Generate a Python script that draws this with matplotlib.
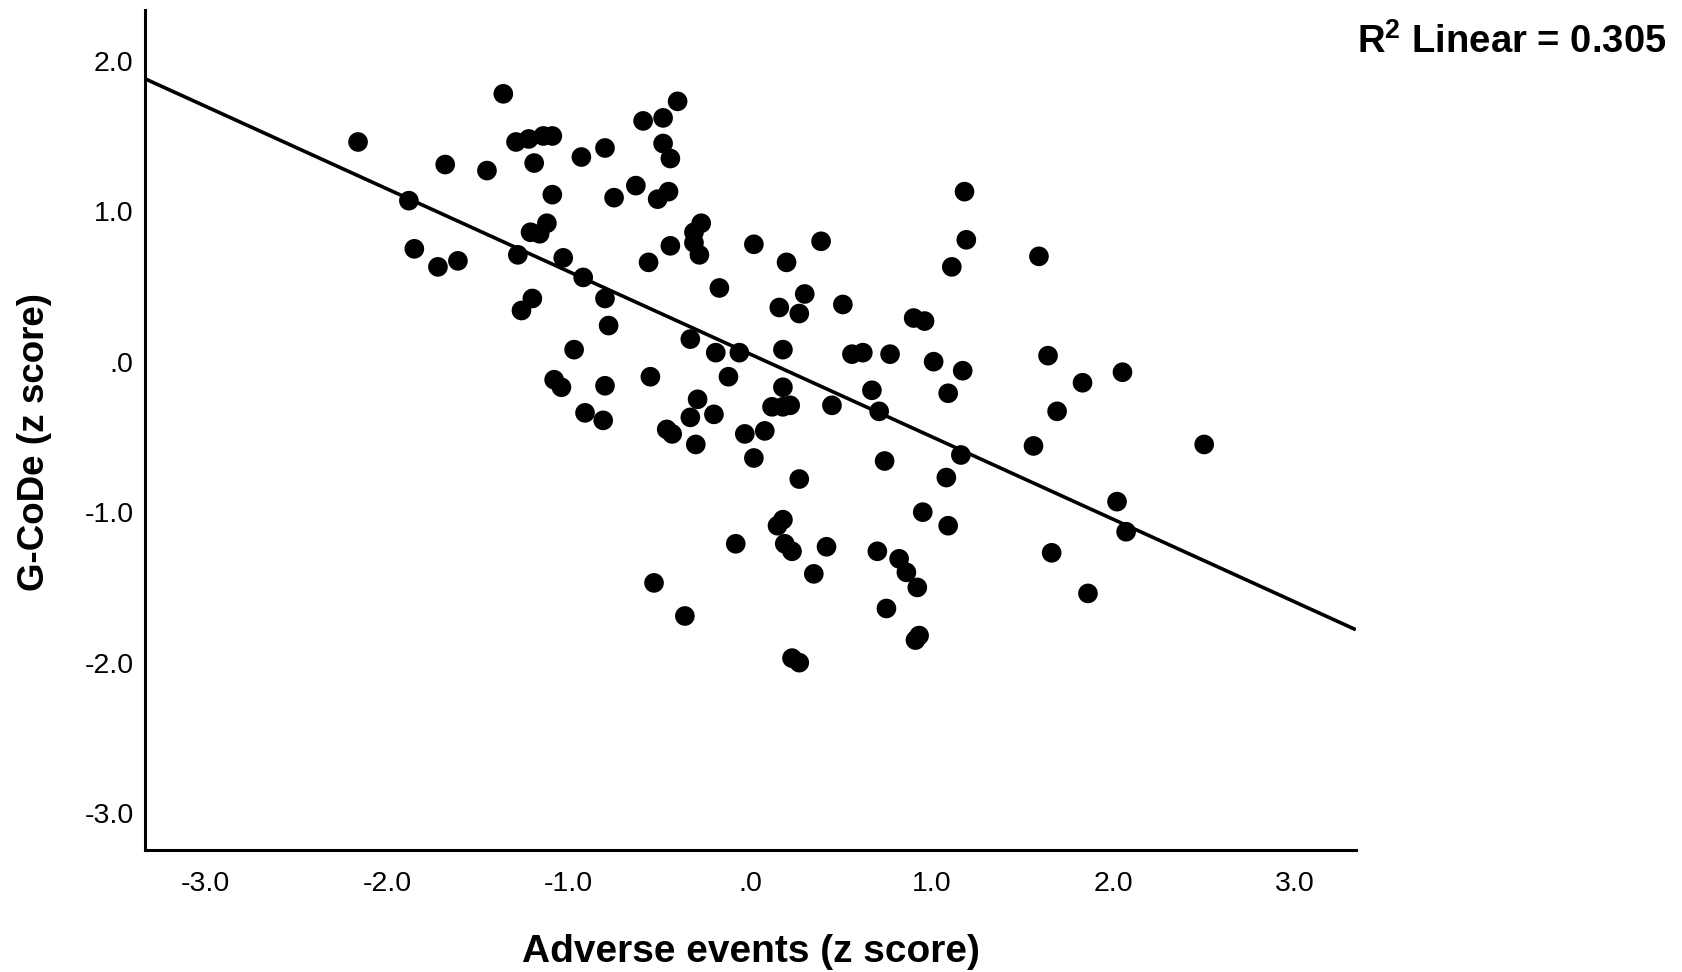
import matplotlib
matplotlib.use("Agg")
import matplotlib.pyplot as plt
import numpy as np

plt.rcParams['font.family'] = ['Liberation Sans', 'DejaVu Sans']
plt.rcParams['mathtext.fontset'] = 'custom'
plt.rcParams['mathtext.rm'] = 'Liberation Sans'
plt.rcParams['mathtext.bf'] = 'Liberation Sans:bold'

# ---- data ----
adverse_z = [
    -1.36, -2.16, -1.29, -1.22, -1.14, -1.09, -1.68, -1.45, -1.19, -0.93, -0.80,
    -1.09, -0.75, -1.88, -1.12, -1.21, -1.16, -1.85, -1.72, -1.61, -1.28, -1.03,
    -0.92, -0.80, -1.20, -1.26, -0.78, -0.97, -1.08, -1.04, -0.80, -0.91, -0.81,
    -0.40, -0.59, -0.48, -0.48, -0.44, -0.63, -0.51, -0.45, -0.27, -0.31, -0.31,
    -0.28, -0.44, -0.56, 0.02, 0.39, 0.20, -0.17, 0.30, 0.16, 0.27, 0.51, 0.90,
    0.96, -0.33, -0.19, -0.06, 0.18, 0.56, 0.62, 0.77, 1.01,
    -0.55, -0.12, 0.18, -0.29, -0.33, -0.20, -0.46, -0.43, -0.30, -0.03, 0.08,
    0.02, 0.12, 0.18, 0.22, 0.45, 0.67, 0.71, 0.27, 0.74, 0.95, 0.18, 0.15,
    0.19, 0.23, -0.08, 0.42, 0.35, 0.70, 0.82, 0.86, 0.92, -0.53, -0.36, 0.75,
    0.93, 0.91, 0.23, 0.27,
    1.18, 1.19, 1.11, 1.59, 1.17, 1.09, 1.64, 1.83, 2.05, 1.69, 1.56, 2.50,
    1.16, 1.08, 1.09, 2.02, 2.07, 1.66, 1.86,
]
gcode_z = [
    1.78, 1.46, 1.46, 1.48, 1.50, 1.50, 1.31, 1.27, 1.32, 1.36, 1.42,
    1.11, 1.09, 1.07, 0.92, 0.86, 0.85, 0.75, 0.63, 0.67, 0.71, 0.69,
    0.56, 0.42, 0.42, 0.34, 0.24, 0.08, -0.12, -0.17, -0.16, -0.34, -0.39,
    1.73, 1.60, 1.62, 1.45, 1.35, 1.17, 1.08, 1.13, 0.92, 0.86, 0.79,
    0.71, 0.77, 0.66, 0.78, 0.80, 0.66, 0.49, 0.45, 0.36, 0.32, 0.38, 0.29,
    0.27, 0.15, 0.06, 0.06, 0.08, 0.05, 0.06, 0.05, 0.00,
    -0.10, -0.10, -0.17, -0.25, -0.37, -0.35, -0.45, -0.48, -0.55, -0.48, -0.46,
    -0.64, -0.30, -0.30, -0.29, -0.29, -0.19, -0.33, -0.78, -0.66, -1.00, -1.05, -1.09,
    -1.21, -1.26, -1.21, -1.23, -1.41, -1.26, -1.31, -1.40, -1.50, -1.47, -1.69, -1.64,
    -1.82, -1.85, -1.97, -2.00,
    1.13, 0.81, 0.63, 0.70, -0.06, -0.21, 0.04, -0.14, -0.07, -0.33, -0.56, -0.55,
    -0.62, -0.77, -1.09, -0.93, -1.13, -1.27, -1.54,
]
fit_intercept = 0.05
fit_slope = -0.549
r2_text = r'$\mathbf{R^{2}}$ Linear = 0.305'

x_tick_values = [-3.0, -2.0, -1.0, 0.0, 1.0, 2.0, 3.0]
x_tick_labels = ['-3.0', '-2.0', '-1.0', '.0', '1.0', '2.0', '3.0']
y_tick_values = [-3.0, -2.0, -1.0, 0.0, 1.0, 2.0]
y_tick_labels = ['-3.0', '-2.0', '-1.0', '.0', '1.0', '2.0']
x_label = 'Adverse events (z score)'
y_label = 'G-CoDe (z score)'

# ---- figure ----
W, H = 1683, 972
fig = plt.figure(figsize=(W / 100, H / 100), dpi=100)
ax = fig.add_axes([144.7 / W, 1 - 850 / H, (1355.8 - 144.7) / W, (850 - 10) / H])

xlim = (-3.335, 3.335)
ylim = (-3.245, 2.337)

ax.scatter(adverse_z, gcode_z, s=200, color='black', edgecolors='none', zorder=3)

xs = np.array(xlim)
ax.plot(xs, fit_intercept + fit_slope * xs, color='black', lw=2.6, zorder=2,
        solid_capstyle='butt')

ax.set_xticks(x_tick_values)
ax.set_xticklabels(x_tick_labels)
ax.set_yticks(y_tick_values)
ax.set_yticklabels(y_tick_labels)
ax.set_xlim(*xlim)
ax.set_ylim(*ylim)
ax.tick_params(axis='both', length=0, labelsize=20.5, colors='black')
ax.tick_params(axis='x', pad=15)
ax.tick_params(axis='y', pad=8)

for s in ['top', 'right']:
    ax.spines[s].set_visible(False)
for s in ['left', 'bottom']:
    ax.spines[s].set_linewidth(2.2)
    ax.spines[s].set_color('black')

fig.text(750.5 / W, 1 - 952 / H, x_label, ha='center', va='center',
         fontsize=28, fontweight='bold')
fig.text(35 / W, 1 - 442 / H, y_label, ha='center', va='center',
         rotation=90, fontsize=26.5, fontweight='bold')
fig.text(1357 / W, 1 - 42 / H, r2_text, ha='left', va='center',
         fontsize=27.5, fontweight='bold')

fig.savefig('out.png', dpi=100, facecolor='white')
